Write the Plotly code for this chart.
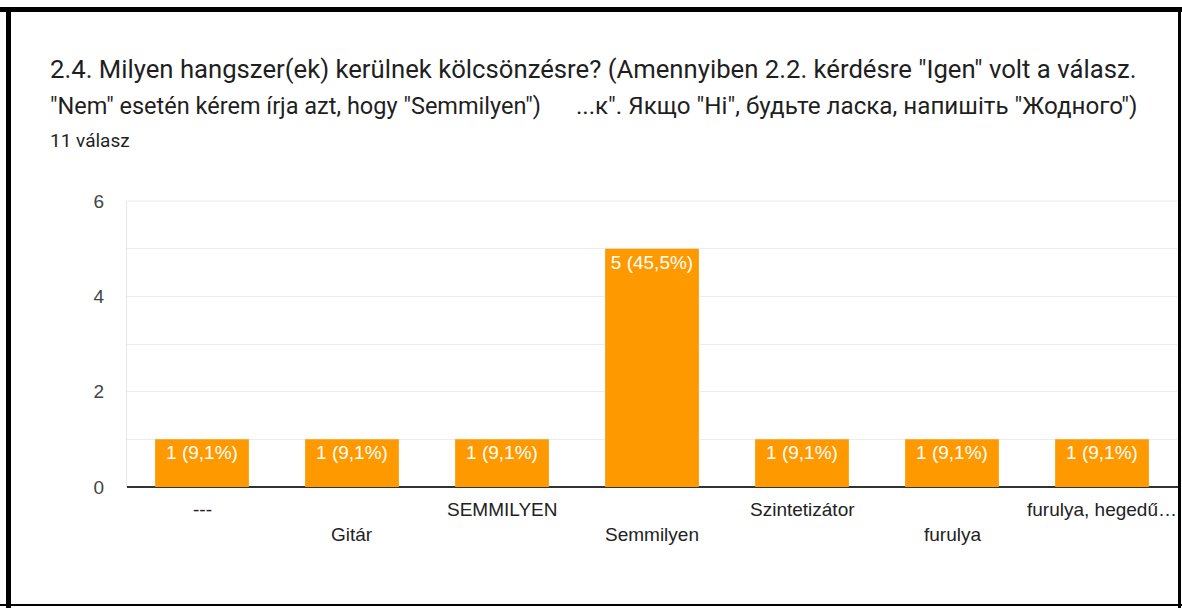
import plotly.graph_objects as go

categories = ["---", "Gitár", "SEMMILYEN", "Semmilyen", "Szintetizátor", "furulya", "furulya, hegedű…"]
counts = [1, 1, 1, 5, 1, 1, 1]
labels = ["1 (9,1%)", "1 (9,1%)", "1 (9,1%)", "5 (45,5%)", "1 (9,1%)", "1 (9,1%)", "1 (9,1%)"]
y_tickvals = [0, 1, 2, 3, 4, 5, 6]
y_ticktext = ["0", "", "2", "", "4", "", "6"]
title_line1 = "2.4. Milyen hangszer(ek) kerülnek kölcsönzésre? (Amennyiben 2.2. kérdésre \"Igen\" volt a válasz."
title_line2a = "\"Nem\" esetén kérem írja azt, hogy \"Semmilyen\")"
title_line2b = "...к\". Якщо \"Ні\", будьте ласка, напишіть \"Жодного\")"
subtitle = "11 válasz"

W, H = 1182, 608
L, R, T, B = 127, W - 127 - 1052, 201, 608 - 487
PW, PH = W - L - R, H - T - B


def px(x):
    return (x - L) / PW


def py(y):
    return 1 - (y - T) / PH


LABEL_FONT = "Liberation Sans, Arial"

fig = go.Figure(go.Bar(
    x=categories, y=counts, text=labels,
    marker=dict(color="#ff9900", line=dict(width=0)),
    textposition="inside", insidetextanchor="end",
    textfont=dict(family=LABEL_FONT, size=19, color="white"),
    hoverinfo="skip",
))

line2 = title_line2a + "\u00a0" * 6 + '<span style="font-size:24.2px">' + title_line2b + "</span>"

annotations = [
    dict(text=title_line1, xref="paper", yref="paper", x=px(48), y=py(69),
         xanchor="left", yanchor="middle", showarrow=False,
         font=dict(family="Roboto", size=25.7, color="#1f1f1f")),
    dict(text=line2, xref="paper", yref="paper", x=px(48), y=py(106),
         xanchor="left", yanchor="middle", showarrow=False,
         font=dict(family="Roboto", size=23.5, color="#1f1f1f")),
    dict(text=subtitle, xref="paper", yref="paper", x=px(48), y=py(140),
         xanchor="left", yanchor="middle", showarrow=False,
         font=dict(family="Roboto", size=19, color="#1f1f1f")),
]
for i, c in enumerate(categories):
    annotations.append(dict(text=c, x=c, xref="x", yref="paper", y=0, yanchor="middle",
                            yshift=-22 if i % 2 == 0 else -47, showarrow=False,
                            font=dict(family=LABEL_FONT, size=19, color="#222222")))

shapes = []
for (x0, y0, x1, y1) in [(0, 7, W, 12), (6, 7, 11, H), (1178, 7, 1181, H), (0, 604, W, 606)]:
    shapes.append(dict(type="rect", xref="paper", yref="paper", x0=px(x0), x1=px(x1), y0=py(y1), y1=py(y0),
                       fillcolor="black", line=dict(width=0), layer="above"))
shapes.append(dict(type="line", xref="paper", yref="paper", x0=0, x1=1, y0=1, y1=1,
                   line=dict(color="#ececec", width=1), layer="below"))

fig.update_layout(
    width=W, height=H,
    margin=dict(l=L, r=R, t=T, b=B, pad=0),
    paper_bgcolor="white", plot_bgcolor="white",
    bargap=0.375, showlegend=False,
    uniformtext=dict(minsize=19, mode="show"),
    annotations=annotations, shapes=shapes,
    xaxis=dict(showticklabels=False, showgrid=False, showline=False, zeroline=False, fixedrange=True),
    yaxis=dict(range=[0, 6], tickvals=y_tickvals, ticktext=y_ticktext,
               showgrid=True, gridcolor="#ececec", gridwidth=1,
               zeroline=True, zerolinecolor="#333333", zerolinewidth=1.5,
               showline=True, linecolor="#e6e6e6", linewidth=1,
               ticklabelstandoff=18,
               tickfont=dict(family=LABEL_FONT, size=19, color="#444444")),
)

fig.write_html("out.html", config={"displayModeBar": False},
               post_script="document.body.style.margin='0';document.body.style.overflow='hidden';")
